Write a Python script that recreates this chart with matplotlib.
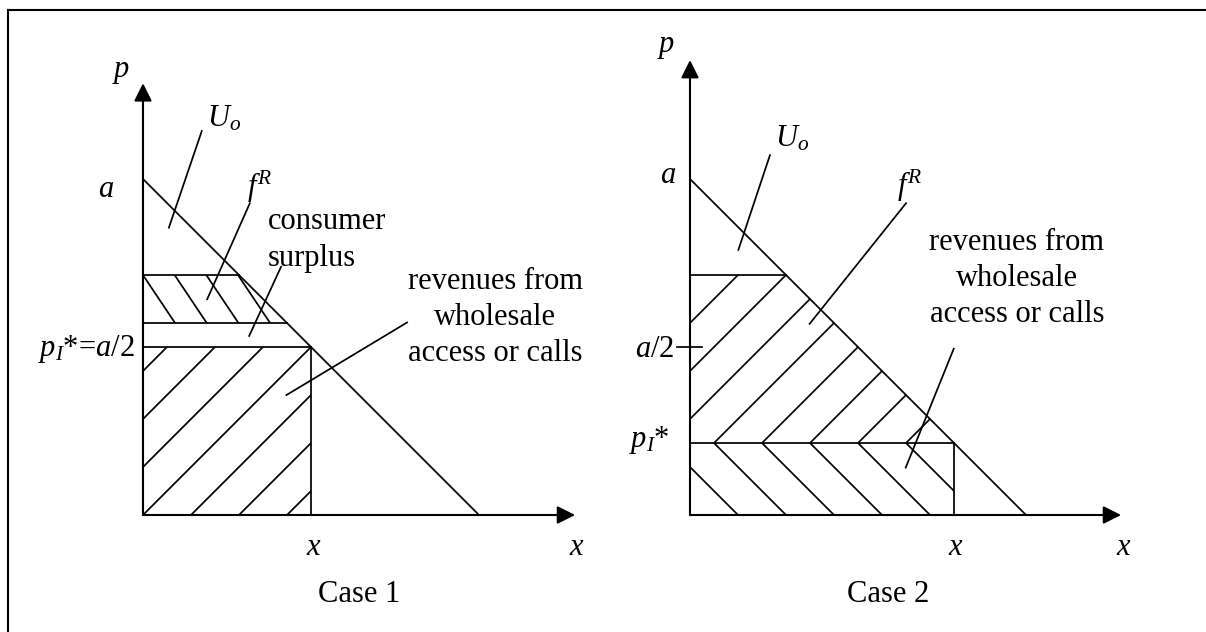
import numpy as np
import matplotlib
matplotlib.use("Agg")
import matplotlib.pyplot as plt
from matplotlib.patches import Polygon
from matplotlib.lines import Line2D

plt.rcParams['font.family'] = ['Liberation Serif', 'DejaVu Serif']
plt.rcParams['mathtext.fontset'] = 'custom'
plt.rcParams['mathtext.rm'] = 'Liberation Serif'
plt.rcParams['mathtext.it'] = 'Liberation Serif:italic'

# demand p = a - x, with a (and the x intercept) normalised to 1
a_val = 1.0
x_int = 1.0
case_names = ['Case 1', 'Case 2']
p_star = [0.5, 0.214]        # p_I*
x_star = [0.5, 0.786]        # quantity at p_I*
fR_top = [0.714, 0.714]      # upper edge of the f^R area
fR_low = [0.571, 0.214]      # lower edge of the f^R area
rev_label = ['revenues from', 'wholesale', 'access or calls']
cs_label = ['consumer', 'surplus']

W, H = 1206, 632
S = 336.0          # pixels per unit
FS = 22
LW = 1.25
LW_AX = 1.5

fig = plt.figure(figsize=(W / 100, H / 100), dpi=100)


def panel(left, ox, oy):
    ax = fig.add_axes([left / W, 0, 603 / W, 1])
    ax.set_xlim(-(ox - left) / S, (left + 603 - ox) / S)
    ax.set_ylim(-(H - oy) / S, oy / S)
    ax.axis('off')
    return ax


def hatch(ax, verts, angle, gap, anchor=(0, 0)):
    clip = Polygon(verts, closed=True, facecolor='none', edgecolor='none')
    ax.add_patch(clip)
    t = np.radians(angle)
    d = np.array([np.cos(t), np.sin(t)])
    n = np.array([-np.sin(t), np.cos(t)])
    for k in range(-40, 41):
        c = np.array(anchor) + n * k * gap
        seg = np.array([c - 3 * d, c + 3 * d])
        ln, = ax.plot(seg[:, 0], seg[:, 1], color='k', lw=LW, solid_capstyle='butt')
        ln.set_clip_path(clip)


def axes_arrows(ax, xtip, ytip):
    style = '-|>,head_length=1.08,head_width=0.54'
    for tip in [(xtip, 0), (0, ytip)]:
        ax.annotate('', xy=tip, xytext=(0, 0),
                    arrowprops=dict(arrowstyle=style, mutation_scale=10, lw=LW_AX,
                                    color='k', shrinkA=0, shrinkB=0))


def txt(ax, u, v, s, ha='center'):
    ax.text(u, v, s, fontsize=FS, ha=ha, va='baseline', clip_on=False)


def leader(ax, p0, p1):
    ax.plot([p0[0], p1[0]], [p0[1], p1[1]], color='k', lw=LW)


gap45 = (1 / 7) * np.sin(np.radians(45))

# ---------- Case 1 ----------
ax1 = panel(0, 143, 515)
ps, xs, top, low = p_star[0], x_star[0], fR_top[0], fR_low[0]
hatch(ax1, [(0, 0), (0, ps), (xs, ps), (xs, 0)], 45, gap45)
hatch(ax1, [(0, low), (0, top), (x_int - top, top), (x_int - low, low)], 123.8,
      0.0943 * np.sin(np.radians(56.2)), anchor=(0, top))
ax1.plot([0, x_int], [a_val, 0], color='k', lw=LW)
ax1.plot([0, x_int - top], [top, top], color='k', lw=LW)
ax1.plot([0, x_int - low], [low, low], color='k', lw=LW)
ax1.plot([0, xs], [ps, ps], color='k', lw=LW)
ax1.plot([xs, xs], [0, ps], color='k', lw=LW)
axes_arrows(ax1, 1.286, 1.285)

txt(ax1, -0.064, 1.304, '$p$')
txt(ax1, -0.111, 0.947, '$a$')
txt(ax1, -0.024, 0.473, '$p_I$*=$a$/2', ha='right')
txt(ax1, 0.190, 1.155, '$U_o$', ha='left')
txt(ax1, 0.309, 0.950, '$f^R$', ha='left')
for i, line in enumerate(cs_label):
    txt(ax1, 0.372, 0.850 - i * 0.109, line, ha='left')
for i, line in enumerate(rev_label):
    txt(ax1, 1.048, 0.673 - i * 0.108, line)
txt(ax1, xs + 0.009, -0.119, '$x$')
txt(ax1, 1.292, -0.119, '$x$')
txt(ax1, 0.643, -0.260, case_names[0])

leader(ax1, (0.175, 1.143), (0.077, 0.855))
leader(ax1, (0.318, 0.928), (0.191, 0.642))
leader(ax1, (0.411, 0.739), (0.316, 0.533))
leader(ax1, (0.786, 0.573), (0.427, 0.357))

# ---------- Case 2 ----------
ax2 = panel(603, 690, 515)
ps, xs, top = p_star[1], x_star[1], fR_top[1]
hatch(ax2, [(0, ps), (0, top), (x_int - top, top), (xs, ps)], 45, gap45)
hatch(ax2, [(0, 0), (0, ps), (xs, ps), (xs, 0)], 135, gap45)
ax2.plot([0, x_int], [a_val, 0], color='k', lw=LW)
ax2.plot([0, x_int - top], [top, top], color='k', lw=LW)
ax2.plot([0, xs], [ps, ps], color='k', lw=LW)
ax2.plot([xs, xs], [0, ps], color='k', lw=LW)
ax2.plot([-0.040, 0.035], [a_val / 2, a_val / 2], color='k', lw=LW)
axes_arrows(ax2, 1.283, 1.354)

txt(ax2, -0.070, 1.377, '$p$')
txt(ax2, -0.065, 0.988, '$a$')
txt(ax2, -0.048, 0.470, '$a$/2', ha='right')
txt(ax2, -0.060, 0.202, '$p_I$*', ha='right')
txt(ax2, 0.253, 1.096, '$U_o$', ha='left')
txt(ax2, 0.615, 0.951, '$f^R$', ha='left')
for i, line in enumerate(rev_label):
    txt(ax2, 0.973, 0.789 - i * 0.108, line)
txt(ax2, xs + 0.006, -0.119, '$x$')
txt(ax2, 1.292, -0.119, '$x$')
txt(ax2, 0.589, -0.260, case_names[1])

leader(ax2, (0.238, 1.071), (0.144, 0.789))
leader(ax2, (0.643, 0.928), (0.356, 0.569))
leader(ax2, (0.785, 0.495), (0.642, 0.141))

# outer frame (left and top edges only are visible)
fig.add_artist(Line2D([8.3 / W, 8.3 / W], [0, 1 - 10 / H], color='k', lw=1.5,
                      transform=fig.transFigure))
fig.add_artist(Line2D([8.3 / W, 1], [1 - 10 / H, 1 - 10 / H], color='k', lw=1.5,
                      transform=fig.transFigure))

fig.savefig('out.png', dpi=100)
